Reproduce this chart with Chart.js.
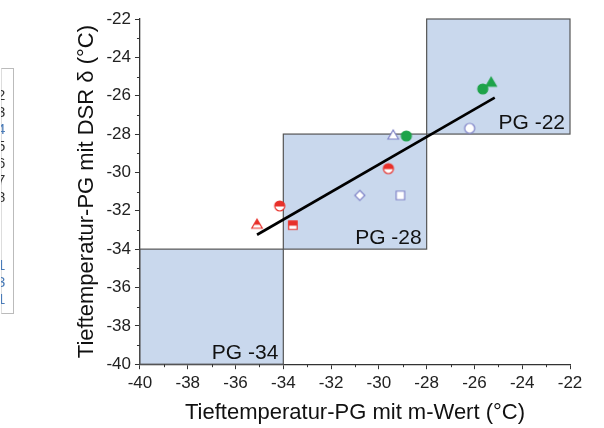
<!DOCTYPE html>
<html>
<head>
<meta charset="utf-8">
<script src="https://cdn.jsdelivr.net/npm/chart.js@4.4.1/dist/chart.umd.min.js"></script>
<style>
  html, body { margin: 0; padding: 0; background: #fff; }
  #wrap { position: relative; width: 604px; height: 428px; }
  #legendStub {
    position: absolute; left: 1px; top: 68px; width: 11px; height: 244px;
    border: 1px solid #bbb; border-left-color: #ddd; overflow: visible;
    font: 15px "Liberation Sans", Arial, sans-serif; color: #333; line-height: 17px;
  }
  #stubClip { position: absolute; left: -1px; top: 0; width: 5px; height: 244px; overflow: hidden; }
  #stubClip span { display: block; margin-left: -4px; }
</style>
</head>
<body>
<div id="wrap">
  <div id="legendStub"><div id="stubClip">
    <span>&nbsp;</span><span>2</span><span>3</span><span style="color:#4a7bb7">4</span><span>5</span><span>6</span><span>7</span><span>8</span>
    <span>&nbsp;</span><span>&nbsp;</span><span>&nbsp;</span><span style="color:#4a7bb7">1</span><span style="color:#4a7bb7">3</span><span style="color:#4a7bb7">1</span>
  </div></div>
  <canvas id="pgChart" width="604" height="428"></canvas>
</div>
<script>
// PG-Klassen (Tieftemperatur)
const gradeLo     = [-40, -34, -28];
const gradeHi     = [-34, -28, -22];
const gradeLabels = ['PG -34', 'PG -28', 'PG -22'];

// Messwerte: m-Wert (x) gegen DSR δ (y)
const mWert = [-35.1, -34.15, -33.6, -29.6, -29.4, -28.85, -30.8, -29.1, -26.2, -25.65, -25.3];
const dsrDelta = [-32.7, -31.75, -32.75, -29.8, -28.05, -28.1, -31.2, -31.2, -27.7, -25.65, -25.3];
const markerShape = ['triangle', 'circle', 'rect', 'circle', 'triangle', 'circle', 'rectRot', 'rect', 'circle', 'circle', 'triangle'];
const markerFill  = ['half', 'half', 'half', 'half', 'open', 'full', 'open', 'open', 'open', 'full', 'full'];
const markerColor = ['#e8302a', '#e8302a', '#e8302a', '#e8302a', '#7d80c6', '#1ea34a', '#7d80c6', '#7d80c6', '#7d80c6', '#1ea34a', '#1ea34a'];

// Ausgleichsgerade
const fitX = [-35.1, -25.15];
const fitY = [-33.25, -26.1];

const axisTicks = [-40, -38, -36, -34, -32, -30, -28, -26, -24, -22];

const FONT = '"Liberation Sans", Arial, sans-serif';

function shapePath(ctx, shape, c, r) {
  ctx.beginPath();
  if (shape === 'circle') {
    ctx.arc(c, c, r, 0, Math.PI * 2);
  } else if (shape === 'triangle') {
    ctx.moveTo(c, c - r);
    ctx.lineTo(c + r * 1.05, c + r * 0.8);
    ctx.lineTo(c - r * 1.05, c + r * 0.8);
  } else if (shape === 'rect') {
    ctx.rect(c - r * 0.85, c - r * 0.85, r * 1.7, r * 1.7);
  } else if (shape === 'rectRot') {
    ctx.moveTo(c, c - r);
    ctx.lineTo(c + r, c);
    ctx.lineTo(c, c + r);
    ctx.lineTo(c - r, c);
  }
  ctx.closePath();
}

function makeMarker(shape, fill, color) {
  const size = 14, c = size / 2, r = 5;
  const cv = document.createElement('canvas');
  cv.width = size; cv.height = size;
  const ctx = cv.getContext('2d');
  shapePath(ctx, shape, c, r);
  ctx.fillStyle = fill === 'full' ? color : '#fff';
  ctx.fill();
  if (fill === 'half') {
    ctx.save();
    shapePath(ctx, shape, c, r);
    ctx.clip();
    ctx.fillStyle = color;
    ctx.fillRect(0, 0, size, c + 0.5);
    ctx.restore();
  }
  shapePath(ctx, shape, c, r);
  ctx.lineWidth = 1.2;
  ctx.strokeStyle = color;
  ctx.stroke();
  return cv;
}

// Hintergrund-Kästen der PG-Klassen
const gradeBoxes = {
  id: 'gradeBoxes',
  beforeDatasetsDraw(chart) {
    const { ctx, scales: { x, y } } = chart;
    ctx.save();
    gradeLo.forEach((lo, i) => {
      const x0 = x.getPixelForValue(lo), x1 = x.getPixelForValue(gradeHi[i]);
      const y0 = y.getPixelForValue(gradeHi[i]), y1 = y.getPixelForValue(lo);
      ctx.fillStyle = '#c9d8ed';
      ctx.fillRect(x0, y0, x1 - x0, y1 - y0);
      ctx.strokeStyle = '#555';
      ctx.lineWidth = 1.2;
      ctx.strokeRect(x0, y0, x1 - x0, y1 - y0);
      ctx.fillStyle = '#111';
      ctx.font = '21px ' + FONT;
      ctx.textAlign = 'right';
      ctx.textBaseline = 'alphabetic';
      ctx.fillText(gradeLabels[i], x1 - 5, y1 - 5);
    });
    ctx.restore();
  }
};

// Zwischenstriche an den ungeraden Werten
const minorTicks = {
  id: 'minorTicks',
  afterDraw(chart) {
    const { ctx, scales: { x, y }, chartArea } = chart;
    ctx.save();
    ctx.strokeStyle = '#333';
    ctx.lineWidth = 1;
    ctx.beginPath();
    for (let v = -39; v <= -23; v += 2) {
      const px = Math.round(x.getPixelForValue(v)) + 0.5;
      ctx.moveTo(px, chartArea.bottom);
      ctx.lineTo(px, chartArea.bottom + 3);
      const py = Math.round(y.getPixelForValue(v)) + 0.5;
      ctx.moveTo(chartArea.left, py);
      ctx.lineTo(chartArea.left - 3, py);
    }
    ctx.stroke();
    ctx.restore();
  }
};

const pointSets = mWert.map((mx, i) => ({
  type: 'scatter',
  data: [{ x: mx, y: dsrDelta[i] }],
  pointStyle: makeMarker(markerShape[i], markerFill[i], markerColor[i]),
  pointRadius: 6,
  pointHoverRadius: 6,
}));

const fitSet = {
  type: 'line',
  data: fitX.map((fx, i) => ({ x: fx, y: fitY[i] })),
  borderColor: '#000',
  borderWidth: 2.6,
  pointRadius: 0,
  fill: false,
};

function axisOptions(title) {
  return {
    type: 'linear',
    min: -40,
    max: -22,
    afterBuildTicks: axis => { axis.ticks = axisTicks.map(v => ({ value: v })); },
    border: { display: true, color: '#333', width: 1.3 },
    grid: { drawOnChartArea: false, tickLength: 5, tickColor: '#333', tickWidth: 1 },
    ticks: { color: '#222', font: { family: FONT, size: 17 }, padding: 4 },
    title: { display: true, text: title, color: '#111', font: { family: FONT, size: 22 }, padding: { top: 2, bottom: 2 } },
  };
}

new Chart(document.getElementById('pgChart'), {
  data: { datasets: [...pointSets, fitSet] },
  options: {
    responsive: false,
    animation: false,
    layout: { padding: { left: 72, right: 34, top: 19, bottom: 0 } },
    plugins: { legend: { display: false }, tooltip: { enabled: false } },
    scales: {
      x: axisOptions('Tieftemperatur-PG mit m-Wert (°C)'),
      y: axisOptions('Tieftemperatur-PG mit DSR δ (°C)'),
    },
  },
  plugins: [gradeBoxes, minorTicks],
});
</script>
</body>
</html>
